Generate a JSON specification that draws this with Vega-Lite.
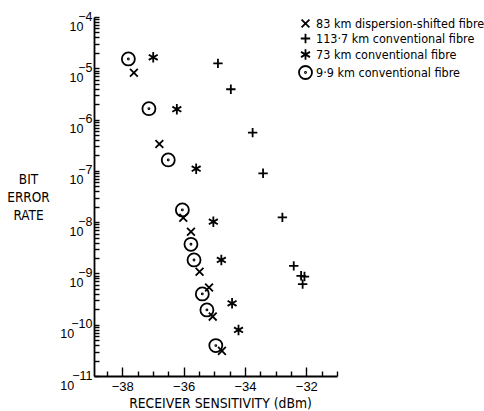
{
  "$schema": "https://vega.github.io/schema/vega-lite/v6.json",
  "width": 243,
  "height": 359,
  "autosize": {"type": "none"},
  "padding": {"left": 94, "top": 17, "right": 147, "bottom": 35},
  "background": "white",
  "config": {
    "view": {"stroke": null},
    "font": "DejaVu Sans Condensed, DejaVu Sans, sans-serif",
    "axis": {
      "grid": false,
      "domain": true,
      "domainColor": "#000000",
      "tickColor": "#000000",
      "labelColor": "black",
      "titleColor": "black",
      "domainWidth": 1.8,
      "tickWidth": 1.4,
      "labelFont": "Liberation Sans, DejaVu Sans, sans-serif",
      "titleFont": "DejaVu Sans Condensed, DejaVu Sans, sans-serif",
      "labelFontWeight": "normal",
      "titleFontWeight": "normal"
    },
    "legend": {
      "labelFont": "DejaVu Sans Condensed, DejaVu Sans, sans-serif"
    }
  },
  "data": {
    "values": [
      {"fibre": "83 km dispersion-shifted fibre", "dbm": -37.62, "ber": 8.2e-6},
      {"fibre": "83 km dispersion-shifted fibre", "dbm": -36.79, "ber": 3.34e-7},
      {"fibre": "83 km dispersion-shifted fibre", "dbm": -36.01, "ber": 1.22e-8},
      {"fibre": "83 km dispersion-shifted fibre", "dbm": -35.76, "ber": 6.5e-9},
      {"fibre": "83 km dispersion-shifted fibre", "dbm": -35.48, "ber": 1.08e-9},
      {"fibre": "83 km dispersion-shifted fibre", "dbm": -35.17, "ber": 5.3e-10},
      {"fibre": "83 km dispersion-shifted fibre", "dbm": -35.05, "ber": 1.44e-10},
      {"fibre": "83 km dispersion-shifted fibre", "dbm": -34.75, "ber": 3.09e-11},
      {"fibre": "113·7 km conventional fibre", "dbm": -34.88, "ber": 1.25e-5},
      {"fibre": "113·7 km conventional fibre", "dbm": -34.46, "ber": 3.9e-6},
      {"fibre": "113·7 km conventional fibre", "dbm": -33.75, "ber": 5.56e-7},
      {"fibre": "113·7 km conventional fibre", "dbm": -33.41, "ber": 8.97e-8},
      {"fibre": "113·7 km conventional fibre", "dbm": -32.78, "ber": 1.24e-8},
      {"fibre": "113·7 km conventional fibre", "dbm": -32.41, "ber": 1.4e-9},
      {"fibre": "113·7 km conventional fibre", "dbm": -32.17, "ber": 9.0e-10},
      {"fibre": "113·7 km conventional fibre", "dbm": -32.06, "ber": 8.7e-10},
      {"fibre": "113·7 km conventional fibre", "dbm": -32.12, "ber": 6.2e-10},
      {"fibre": "73 km conventional fibre", "dbm": -36.99, "ber": 1.64e-5},
      {"fibre": "73 km conventional fibre", "dbm": -36.22, "ber": 1.59e-6},
      {"fibre": "73 km conventional fibre", "dbm": -35.59, "ber": 1.1e-7},
      {"fibre": "73 km conventional fibre", "dbm": -35.03, "ber": 1.02e-8},
      {"fibre": "73 km conventional fibre", "dbm": -34.77, "ber": 1.83e-9},
      {"fibre": "73 km conventional fibre", "dbm": -34.42, "ber": 2.62e-10},
      {"fibre": "73 km conventional fibre", "dbm": -34.21, "ber": 7.9e-11},
      {"fibre": "9·9 km conventional fibre", "dbm": -37.8, "ber": 1.52e-5},
      {"fibre": "9·9 km conventional fibre", "dbm": -37.13, "ber": 1.63e-6},
      {"fibre": "9·9 km conventional fibre", "dbm": -36.5, "ber": 1.63e-7},
      {"fibre": "9·9 km conventional fibre", "dbm": -36.04, "ber": 1.73e-8},
      {"fibre": "9·9 km conventional fibre", "dbm": -35.76, "ber": 3.7e-9},
      {"fibre": "9·9 km conventional fibre", "dbm": -35.66, "ber": 1.83e-9},
      {"fibre": "9·9 km conventional fibre", "dbm": -35.39, "ber": 3.98e-10},
      {"fibre": "9·9 km conventional fibre", "dbm": -35.24, "ber": 1.94e-10},
      {"fibre": "9·9 km conventional fibre", "dbm": -34.95, "ber": 3.92e-11}
    ]
  },
  "mark": {"type": "point", "filled": false, "stroke": "black", "strokeWidth": 1.8, "size": 169, "opacity": 1},
  "encoding": {
    "x": {
      "field": "dbm", "type": "quantitative",
      "scale": {"domain": [-38.92, -31], "nice": false, "zero": false},
      "axis": {
        "orient": "bottom",
        "values": [-38.5, -38, -37.5, -37, -36.5, -36, -35.5, -35, -34.5, -34, -33.5, -33, -32.5, -32, -31.5, -31],
        "tickSize": {"condition": {"test": "datum.value % 2 == 0", "value": -9}, "value": -5},
        "labelPadding": 13,
        "labelFontSize": 13,
        "labelExpr": "datum.value % 2 == 0 ? '−' + abs(datum.value) : ''",
        "title": "RECEIVER SENSITIVITY (dBm)",
        "titleFontSize": 13.8,
        "titleX": 126,
        "titleY": 27,
        "titleBaseline": "middle"
      }
    },
    "y": {
      "field": "ber", "type": "quantitative",
      "scale": {"type": "log", "domain": [1e-11, 1e-4], "nice": false},
      "axis": {
        "orient": "left",
        "values": [1e-11, 2e-11, 3e-11, 4e-11, 5e-11, 6e-11, 7e-11, 8e-11, 9e-11,
                   1e-10, 2e-10, 3e-10, 4e-10, 5e-10, 6e-10, 7e-10, 8e-10, 9e-10,
                   1e-9, 2e-9, 3e-9, 4e-9, 5e-9, 6e-9, 7e-9, 8e-9, 9e-9,
                   1e-8, 2e-8, 3e-8, 4e-8, 5e-8, 6e-8, 7e-8, 8e-8, 9e-8,
                   1e-7, 2e-7, 3e-7, 4e-7, 5e-7, 6e-7, 7e-7, 8e-7, 9e-7,
                   1e-6, 2e-6, 3e-6, 4e-6, 5e-6, 6e-6, 7e-6, 8e-6, 9e-6,
                   1e-5, 2e-5, 3e-5, 4e-5, 5e-5, 6e-5, 7e-5, 8e-5, 9e-5, 1e-4],
        "tickSize": -5,
        "labelPadding": 7,
        "labelAlign": "right",
        "labelBaseline": "middle",
        "labelOffset": -1,
        "labelLineHeight": 10,
        "labelFontSize": 12.5,
        "labelBound": false,
        "labelOverlap": false,
        "labelExpr": "abs(log(datum.value)/LN10 - round(log(datum.value)/LN10)) < 0.000001 ? ['−' + round(-log(datum.value)/LN10), round(-log(datum.value)/LN10) >= 10 ? '10\u2800\u2800' : '10\u2800'] : ''",
        "title": ["BIT", "ERROR", "RATE"],
        "titleAngle": 0,
        "titleFontSize": 13.5,
        "titleAlign": "center",
        "titleBaseline": "alphabetic",
        "titleX": -66,
        "titleY": 166,
        "titleLineHeight": 18
      }
    },
    "shape": {
      "field": "fibre", "type": "nominal",
      "scale": {
        "domain": ["83 km dispersion-shifted fibre", "113·7 km conventional fibre", "73 km conventional fibre", "9·9 km conventional fibre"],
        "range": [
          "M-0.6,-0.6L0.6,0.6M-0.6,0.6L0.6,-0.6",
          "M0,-0.72L0,0.72M-0.72,0L0.72,0",
          "M0,-0.8L0,0.8M-0.69,-0.4L0.69,0.4M-0.69,0.4L0.69,-0.4",
          "M-1,0A1,1,0,1,0,1,0A1,1,0,1,0,-1,0M-0.08,0A0.08,0.08,0,1,0,0.08,0A0.08,0.08,0,1,0,-0.08,0"
        ]
      },
      "legend": {
        "orient": "none",
        "legendX": 204,
        "legendY": -1,
        "title": null,
        "symbolSize": 169,
        "symbolStrokeColor": "black",
        "symbolFillColor": "transparent",
        "symbolStrokeWidth": 1.8,
        "labelFontSize": 12.5,
        "labelColor": "black",
        "labelOffset": 3,
        "rowPadding": -2,
        "labelLimit": 300,
        "padding": 0
      }
    }
  }
}
